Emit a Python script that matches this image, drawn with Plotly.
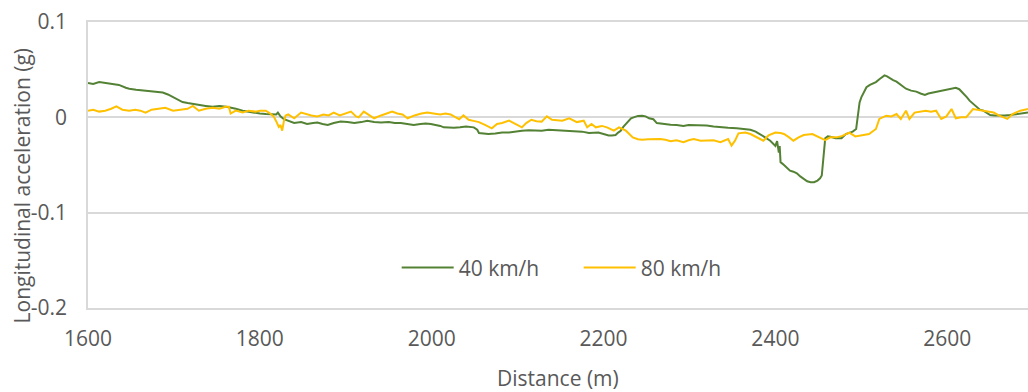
import plotly.graph_objects as go

# ---- Data ----
dist_40 = [1600, 1606, 1613, 1620, 1628, 1636, 1644, 1648, 1656, 1665, 1675, 1687, 1693, 1699, 1705,
           1710, 1716, 1722, 1730, 1737, 1745, 1753, 1761, 1767, 1772, 1780, 1786, 1792, 1800, 1807,
           1813, 1819, 1821, 1824, 1828, 1832, 1840, 1848, 1855, 1862, 1867, 1873, 1879, 1886, 1894,
           1902, 1910, 1918, 1925, 1933, 1941, 1950, 1957, 1964, 1972, 1979, 1987, 1993, 1999, 2005,
           2010, 2014, 2020, 2026, 2033, 2040, 2049, 2053, 2055, 2060, 2066, 2074, 2082, 2090, 2097,
           2105, 2113, 2120, 2128, 2136, 2144, 2151, 2159, 2167, 2175, 2183, 2188, 2194, 2200, 2206,
           2210, 2214, 2217, 2220, 2223, 2226, 2229, 2232, 2235, 2240, 2245, 2249, 2253, 2258, 2262,
           2270, 2278, 2285, 2293, 2299, 2305, 2312, 2320, 2328, 2336, 2345, 2355, 2363, 2371, 2377,
           2382, 2388, 2394, 2397, 2400, 2402, 2403, 2404, 2405, 2406, 2410, 2414, 2417, 2421, 2425,
           2429, 2433, 2437, 2441, 2445, 2449, 2452, 2454, 2456, 2458, 2461, 2464, 2470, 2477, 2482,
           2490, 2494, 2496, 2498, 2500, 2503, 2506, 2510, 2513, 2517, 2521, 2524, 2527, 2530, 2533,
           2537, 2541, 2546, 2552, 2558, 2564, 2569, 2574, 2578, 2583, 2588, 2594, 2600, 2605, 2610,
           2614, 2617, 2620, 2623, 2626, 2630, 2634, 2638, 2642, 2646, 2650, 2655, 2661, 2667, 2673,
           2679, 2685, 2690, 2694]
acc_40 = [0.036, 0.035, 0.037, 0.036, 0.035, 0.034, 0.031, 0.030, 0.029, 0.028, 0.027, 0.026, 0.024, 0.021, 0.018,
          0.016, 0.015, 0.014, 0.013, 0.012, 0.011, 0.012, 0.011, 0.010, 0.009, 0.007, 0.006, 0.005, 0.004, 0.0035,
          0.003, 0.003, 0.005, 0.001, -0.002, -0.0035, -0.006, -0.005, -0.007, -0.006, -0.0055, -0.007, -0.008, -0.006, -0.0045,
          -0.005, -0.006, -0.005, -0.0035, -0.005, -0.0055, -0.005, -0.006, -0.006, -0.007, -0.008, -0.007, -0.0065, -0.007, -0.008,
          -0.009, -0.0105, -0.011, -0.011, -0.0105, -0.0095, -0.0105, -0.013, -0.0165, -0.017, -0.0175, -0.017, -0.016, -0.016, -0.015,
          -0.014, -0.0135, -0.014, -0.014, -0.013, -0.0135, -0.014, -0.014, -0.0145, -0.015, -0.0165, -0.016, -0.016, -0.0175, -0.019,
          -0.019, -0.0185, -0.016, -0.014, -0.010, -0.007, -0.0035, -0.001, 0.0, 0.0015, 0.0017, 0.001, -0.001, -0.002, -0.006,
          -0.007, -0.0077, -0.008, -0.009, -0.008, -0.008, -0.0085, -0.0085, -0.0095, -0.0105, -0.011, -0.0115, -0.012, -0.013, -0.015,
          -0.0175, -0.021, -0.0245, -0.027, -0.030, -0.025, -0.034, -0.037, -0.030, -0.047, -0.050, -0.053, -0.056, -0.057, -0.0587,
          -0.062, -0.0647, -0.067, -0.068, -0.068, -0.0663, -0.064, -0.061, -0.0385, -0.022, -0.020, -0.0203, -0.022, -0.022, -0.0175,
          -0.015, -0.0122, 0.0017, 0.0157, 0.021, 0.026, 0.0315, 0.034, 0.035, 0.037, 0.040, 0.042, 0.044, 0.043, 0.041,
          0.039, 0.0375, 0.034, 0.030, 0.028, 0.027, 0.025, 0.0235, 0.025, 0.026, 0.027, 0.0275, 0.029, 0.030, 0.031,
          0.0295, 0.027, 0.0245, 0.021, 0.0175, 0.014, 0.0105, 0.008, 0.007, 0.005, 0.0024, 0.002, 0.0017, 0.002, 0.0024,
          0.003, 0.0035, 0.004, 0.005]

dist_80 = [1600, 1606, 1613, 1620, 1627, 1633, 1640, 1648, 1655, 1661, 1667, 1674, 1682, 1690, 1699,
           1710, 1716, 1722, 1729, 1737, 1745, 1753, 1760, 1764, 1766, 1772, 1780, 1787, 1795, 1800,
           1807, 1812, 1816, 1819, 1822, 1824, 1826, 1828, 1830, 1833, 1840, 1848, 1855, 1860, 1867,
           1874, 1880, 1886, 1893, 1900, 1906, 1912, 1915, 1921, 1928, 1933, 1941, 1948, 1954, 1960,
           1966, 1972, 1980, 1988, 1995, 2002, 2010, 2016, 2022, 2028, 2032, 2037, 2043, 2050, 2055,
           2062, 2070, 2076, 2082, 2090, 2097, 2105, 2110, 2116, 2122, 2128, 2134, 2140, 2146, 2152,
           2160, 2169, 2177, 2181, 2186, 2191, 2198, 2204, 2212, 2218, 2226, 2230, 2234, 2240, 2245,
           2252, 2259, 2266, 2272, 2278, 2285, 2293, 2299, 2305, 2313, 2320, 2328, 2336, 2342, 2345,
           2349, 2353, 2357, 2365, 2371, 2378, 2386, 2392, 2400, 2406, 2410, 2416, 2421, 2427, 2433,
           2443, 2452, 2458, 2464, 2471, 2478, 2486, 2493, 2501, 2509, 2517, 2521, 2529, 2535, 2541,
           2546, 2552, 2556, 2562, 2568, 2575, 2581, 2587, 2593, 2599, 2605, 2610, 2616, 2622, 2630,
           2642, 2654, 2660, 2666, 2670, 2676, 2685, 2694]
acc_80 = [0.007, 0.008, 0.006, 0.007, 0.009, 0.0115, 0.008, 0.007, 0.008, 0.007, 0.005, 0.008, 0.009, 0.010, 0.007,
          0.008, 0.009, 0.012, 0.007, 0.009, 0.010, 0.009, 0.011, 0.011, 0.004, 0.007, 0.005, 0.007, 0.006, 0.007,
          0.007, 0.004, 0.001, -0.004, -0.010, -0.008, -0.014, -0.004, 0.002, 0.003, -0.001, 0.005, 0.003, 0.002, 0.001,
          0.003, 0.002, 0.005, 0.002, 0.004, 0.006, 0.001, 0.0, 0.006, 0.002, -0.001, 0.002, 0.004, 0.006, 0.004,
          0.003, -0.001, 0.002, 0.004, 0.005, 0.004, 0.003, 0.004, 0.003, 0.0, -0.002, 0.002, -0.0025, -0.004, -0.005,
          -0.008, -0.0115, -0.007, -0.006, -0.0035, -0.007, -0.0105, -0.006, -0.0025, -0.004, -0.0045, 0.001, -0.0025, -0.003, -0.0035,
          -0.001, -0.005, -0.0035, -0.0105, -0.007, -0.0105, -0.009, -0.0105, -0.014, -0.0105, -0.014, -0.018, -0.021, -0.023, -0.0235,
          -0.023, -0.0228, -0.0227, -0.0235, -0.025, -0.024, -0.026, -0.024, -0.0227, -0.0245, -0.024, -0.024, -0.026, -0.024, -0.0227,
          -0.0297, -0.0245, -0.0168, -0.016, -0.0175, -0.021, -0.0245, -0.019, -0.016, -0.0165, -0.0175, -0.021, -0.0245, -0.021, -0.0185,
          -0.0175, -0.0217, -0.024, -0.021, -0.021, -0.0195, -0.016, -0.020, -0.0185, -0.0175, -0.0122, -0.0017, 0.0017, 0.001, 0.0035,
          -0.0017, 0.007, -0.0017, 0.005, 0.006, 0.007, 0.006, 0.007, -0.0017, 0.001, 0.0087, -0.001, 0.0, 0.0, 0.0087,
          0.007, 0.005, 0.002, 0.0, -0.0017, 0.0035, 0.007, 0.0087]

x_ticks = [1600, 1800, 2000, 2200, 2400, 2600]
x_tick_text = ["1600", "1800", "2000", "2200", "2400", "2600"]
y_ticks = [0.1, 0.0, -0.1, -0.2]
y_tick_text = ["0.1", "0", "-0.1", "-0.2"]

FONT = "Open Sans"
TXT = "#595959"
GRID = "#D9D9D9"

fig = go.Figure()
fig.add_trace(go.Scatter(x=dist_40, y=acc_40, mode="lines", name="40 km/h",
                         line=dict(color="#548235", width=2)))
fig.add_trace(go.Scatter(x=dist_80, y=acc_80, mode="lines", name="80 km/h",
                         line=dict(color="#FFC000", width=2)))

fig.update_layout(
    width=1028, height=392,
    margin=dict(l=88, r=0, t=22, b=84),
    paper_bgcolor="white", plot_bgcolor="white",
    font=dict(family=FONT, size=21, color=TXT),
    showlegend=True,
    legend=dict(orientation="h", x=0.522, xanchor="center", y=0.14, yanchor="middle",
                itemwidth=52, entrywidth=115, bgcolor="rgba(0,0,0,0)",
                font=dict(family=FONT, size=21, color=TXT)),
    xaxis=dict(range=[1600, 2694], tickvals=x_ticks, ticktext=x_tick_text,
               showgrid=False, zeroline=False, showline=True, mirror=True,
               linecolor=GRID, linewidth=1.6, ticks="",
               ticklabelstandoff=11, tickfont=dict(family=FONT, size=21, color=TXT)),
    yaxis=dict(range=[-0.2, 0.1], tickvals=y_ticks, ticktext=y_tick_text,
               showgrid=True, gridcolor=GRID, gridwidth=1.6, zeroline=False,
               showline=True, linecolor=GRID, linewidth=1.6, ticks="",
               ticklabelstandoff=15, tickfont=dict(family=FONT, size=21, color=TXT)),
    annotations=[
        dict(text="Distance (m)", xref="paper", yref="paper", x=0.5, y=-0.245,
             xanchor="center", yanchor="middle", showarrow=False,
             font=dict(family=FONT, size=21, color=TXT)),
        dict(text="Longitudinal acceleration (g)", xref="paper", yref="paper",
             x=-0.0702, y=0.425, xanchor="center", yanchor="middle", textangle=-90,
             showarrow=False, font=dict(family=FONT, size=21, color=TXT)),
    ],
)

fig.write_html("out.html")
